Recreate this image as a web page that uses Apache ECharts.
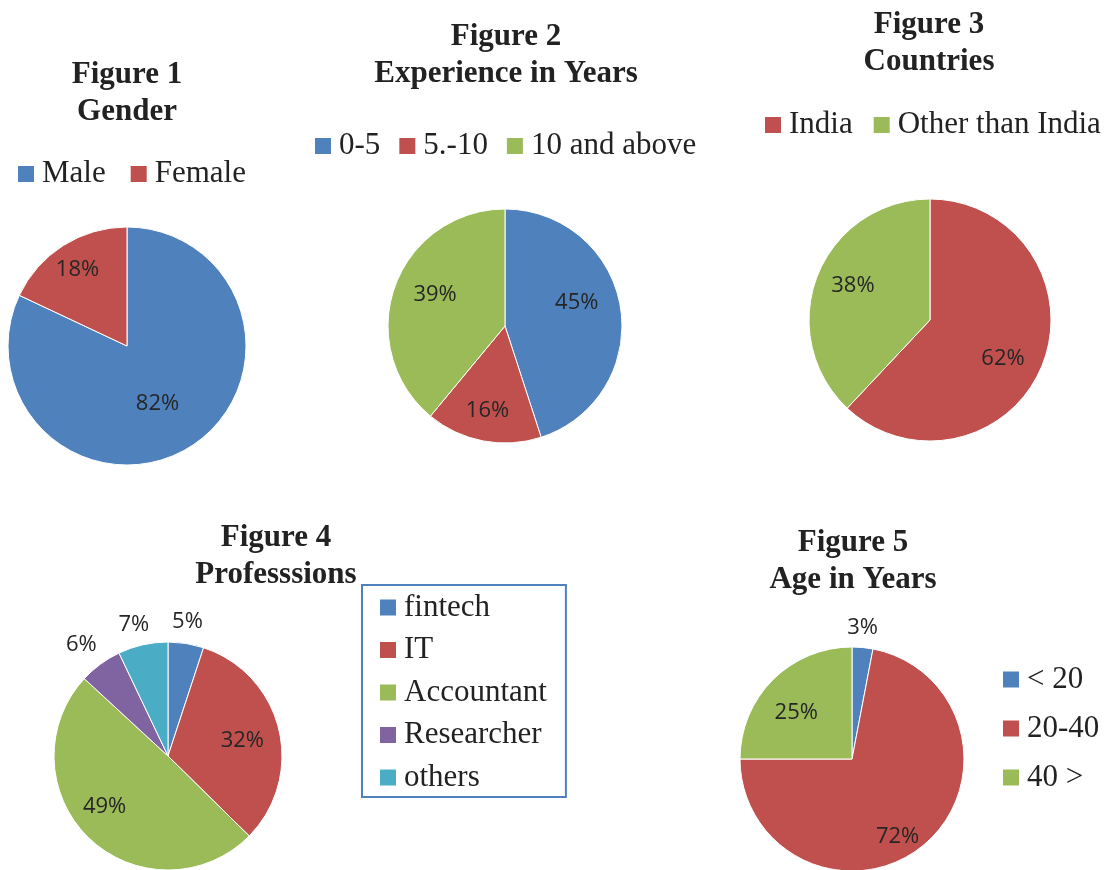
<!DOCTYPE html>
<html>
<head>
<meta charset="utf-8">
<script src="https://cdn.jsdelivr.net/npm/echarts@6/dist/echarts.min.js"></script>
<style>
  html, body { margin: 0; padding: 0; background: #fff; }
  #chart { width: 1110px; height: 870px; }
</style>
</head>
<body>
<div id="chart"></div>
<script>
// data
var genderNames = ["Male", "Female"];
var genderValues = [82, 18];

var experienceNames = ["0-5", "5.-10", "10 and above"];
var experienceValues = [45, 16, 39];

var countryNames = ["India", "Other than India"];
var countryValues = [62, 38];

var professionNames = ["fintech", "IT", "Accountant", "Researcher", "others"];
var professionValues = [5, 32, 49, 6, 7];

var ageNames = ["< 20", "20-40", "40 >"];
var ageValues = [3, 72, 25];

// office colours
var BLUE = "#4F81BD", RED = "#C0504D", GREEN = "#9BBB59", PURPLE = "#8064A2", CYAN = "#4BACC6";

var serif = "'Liberation Serif', 'Times New Roman', serif";
var textColor = "#222";

function makeData(names, values, colors) {
  return names.map(function (n, i) {
    return { name: n, value: values[i], itemStyle: { color: colors[i] } };
  });
}

// title block, x is centre
function makeTitle(text, x, top) {
  return {
    text: text,
    left: x,
    top: top,
    padding: 0,
    textAlign: "center",
    textStyle: {
      fontFamily: serif,
      fontWeight: "bold",
      fontSize: 31,
      lineHeight: 37,
      color: textColor
    }
  };
}

function makeLegend(names, opts) {
  var lg = {
    data: names,
    selectedMode: false,
    icon: "rect",
    itemWidth: 16,
    itemHeight: 16,
    itemStyle: { borderWidth: 0 },
    padding: 0,
    textStyle: {
      fontFamily: serif,
      fontSize: 31,
      lineHeight: 31,
      color: textColor,
      padding: [0, 0, 0, 3]
    }
  };
  for (var k in opts) lg[k] = opts[k];
  return lg;
}

// label nudges so they sit where Excel put them
function makePie(data, center, radius, nudges) {
  return {
    type: "pie",
    center: center,
    radius: radius,
    startAngle: 90,
    clockwise: true,
    avoidLabelOverlap: false,
    silent: true,
    data: data,
    itemStyle: { borderColor: "#fff", borderWidth: 1 },
    label: {
      show: true,
      position: "inside",
      formatter: "{c}%",
      fontFamily: "'Open Sans', 'Noto Sans', sans-serif",
      fontSize: 22,
      color: "#262626"
    },
    labelLine: { show: false },
    labelLayout: function (p) {
      var n = nudges[p.dataIndex] || [0, 0];
      return { dx: n[0], dy: n[1] };
    }
  };
}

var chart = echarts.init(document.getElementById("chart"));

chart.setOption({
  animation: false,
  title: [
    makeTitle("Figure 1\nGender", 127, 56.5),
    makeTitle("Figure 2\nExperience in Years", 506, 18.5),
    makeTitle("Figure 3\nCountries", 929, 6.5),
    makeTitle("Figure 4\nProfesssions", 276, 519),
    makeTitle("Figure 5\nAge in Years", 853, 524)
  ],
  legend: [
    makeLegend(genderNames, { left: 18, top: 158.5, itemGap: 25 }),
    makeLegend(experienceNames, { left: 315, top: 130.5, itemGap: 19 }),
    makeLegend(countryNames, { left: 765, top: 109.5, itemGap: 21 }),
    makeLegend(professionNames, {
      left: 362, top: 585, orient: "vertical", itemGap: 11.5,
      padding: [7, 19, 4, 18],
      borderColor: BLUE, borderWidth: 2
    }),
    makeLegend(ageNames, { left: 1003, top: 664, orient: "vertical", itemGap: 18 })
  ],
  series: [
    makePie(makeData(genderNames, genderValues, [BLUE, RED]), [127, 346], 119,
      [[-3, 5], [-16, -23]]),
    makePie(makeData(experienceNames, experienceValues, [BLUE, RED, GREEN]), [505, 326], 117,
      [[11, -14], [-6, 24], [-12, -10]]),
    makePie(makeData(countryNames, countryValues, [RED, GREEN]), [930, 320], 121,
      [[14, 15], [-18, -11]]),
    makePie(makeData(professionNames, professionValues, [BLUE, RED, GREEN, PURPLE, CYAN]), [168, 756], 114,
      [[10, -75], [16, -1], [-22, 7], [-51, -63], [-21, -73]]),
    makePie(makeData(ageNames, ageValues, [BLUE, RED, GREEN]), [852, 759], 112,
      [[5, -73], [8, 32], [-14, -5]])
  ]
});

window.addEventListener("resize", function () { chart.resize(); });
</script>
</body>
</html>
